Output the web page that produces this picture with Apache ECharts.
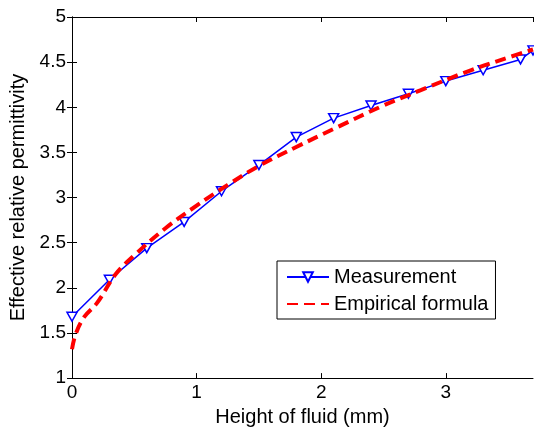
<!DOCTYPE html>
<html>
<head>
<meta charset="utf-8">
<script src="https://cdn.jsdelivr.net/npm/echarts@6/dist/echarts.min.js"></script>
<style>
html, body { margin: 0; padding: 0; background: #fff; }
#chart { width: 534px; height: 432px; }
</style>
</head>
<body>
<div id="chart"></div>
<script>
// measured points
var measX = [0, 0.3, 0.6, 0.9, 1.2, 1.5, 1.8, 2.1, 2.4, 2.7, 3.0, 3.3, 3.6, 3.7];
var measY = [1.68, 2.09, 2.44, 2.73, 3.07, 3.36, 3.67, 3.88, 4.02, 4.15, 4.29, 4.41, 4.53, 4.63];

// empirical curve
var fitX = [0, 0.03, 0.1, 0.2, 0.35, 0.5, 0.75, 1.0, 1.25, 1.5, 1.8, 2.1, 2.5, 2.8, 3.2, 3.5, 3.7];
var fitY = [1.32, 1.49, 1.68, 1.83, 2.15, 2.36, 2.66, 2.91, 3.14, 3.35, 3.56, 3.76, 4.02, 4.19, 4.41, 4.55, 4.64];

var xTicks = [0, 1, 2, 3];

var font = 'Liberation Sans';

function pairs(xs, ys) {
	var out = [];
	for (var i = 0; i < xs.length; i++) {
		out.push([xs[i], ys[i]]);
	}
	return out;
}

var myChart = echarts.init(document.getElementById('chart'));

var axisLine = { show: true, lineStyle: { color: '#000', width: 1 } };
var tick = { show: true, inside: true, length: 5, lineStyle: { color: '#000' } };

myChart.setOption({
	backgroundColor: '#fff',
	animation: false,
	grid: { left: 72, right: 1, top: 17, bottom: 51 },
	legend: {
		orient: 'vertical',
		left: 277,
		top: 261,
		padding: [6, 7, 5, 9],
		itemGap: 7,
		itemWidth: 42,
		itemHeight: 12,
		borderColor: '#000',
		borderWidth: 1,
		borderRadius: 0,
		backgroundColor: '#fff',
		textStyle: { fontFamily: font, fontSize: 20, color: '#000' },
		data: ['Measurement', 'Empirical formula']
	},
	xAxis: [{
		type: 'value',
		min: 0,
		max: 3.7,
		interval: 1,
		name: 'Height of fluid (mm)',
		nameLocation: 'middle',
		nameGap: 28,
		nameTextStyle: { fontFamily: font, fontSize: 20, color: '#000' },
		axisLine: axisLine,
		axisTick: tick,
		axisLabel: {
			fontFamily: font, fontSize: 19, color: '#000', margin: 5,
			showMaxLabel: false,
			formatter: function(v) { return xTicks.indexOf(v) >= 0 ? String(v) : ''; }
		},
		splitLine: { show: false }
	}, {
		type: 'value',
		position: 'top',
		min: 0,
		max: 3.7,
		interval: 1,
		axisLine: axisLine,
		axisTick: tick,
		axisLabel: { show: false },
		splitLine: { show: false }
	}],
	yAxis: [{
		type: 'value',
		min: 1,
		max: 5,
		interval: 0.5,
		name: 'Effective relative permittivity',
		nameLocation: 'middle',
		nameGap: 42,
		nameTextStyle: { fontFamily: font, fontSize: 20, color: '#000' },
		axisLine: axisLine,
		axisTick: tick,
		axisLabel: { fontFamily: font, fontSize: 19, color: '#000', margin: 6 },
		splitLine: { show: false }
	}, {
		type: 'value',
		position: 'right',
		min: 1,
		max: 5,
		interval: 0.5,
		axisLine: axisLine,
		axisTick: tick,
		axisLabel: { show: false },
		splitLine: { show: false }
	}],
	series: [{
		name: 'Measurement',
		type: 'line',
		data: pairs(measX, measY),
		symbol: 'triangle',
		symbolRotate: 180,
		symbolSize: [10, 9],
		showAllSymbol: true,
		lineStyle: { color: '#0000ff', width: 1.5 },
		itemStyle: { color: '#fff', borderColor: '#0000ff', borderWidth: 1.5 },
		z: 2
	}, {
		name: 'Empirical formula',
		type: 'line',
		data: pairs(fitX, fitY),
		smooth: 0.4,
		symbol: 'none',
		lineStyle: { color: '#ff0000', width: 4, type: [11, 6] },
		// transparent so the legend shows only the dashed line
		itemStyle: { color: 'rgba(0,0,0,0)' },
		z: 3
	}]
});
</script>
</body>
</html>
